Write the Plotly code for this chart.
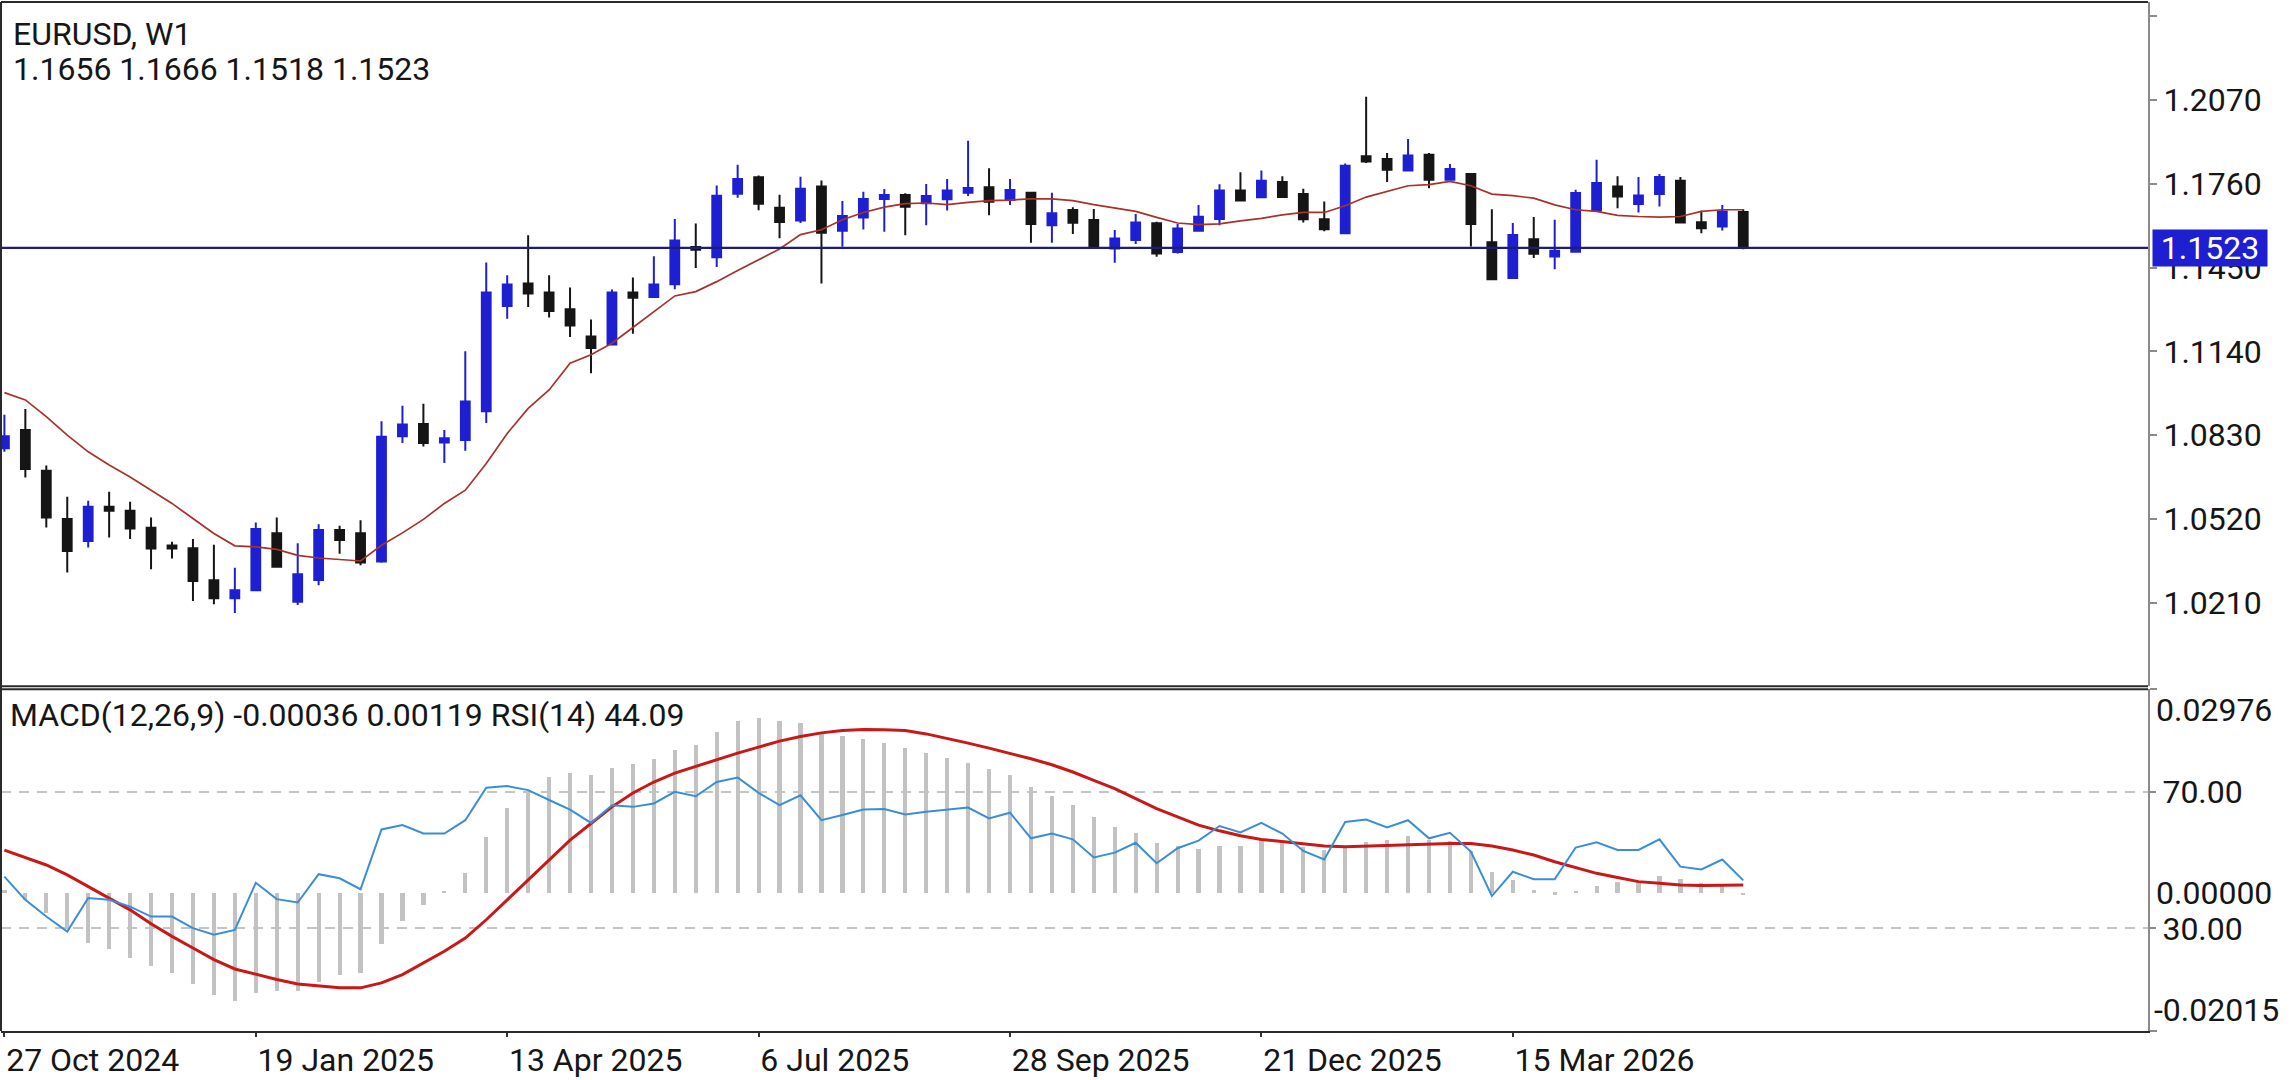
import pandas as pd
import plotly.graph_objects as go

# ---------------- data ----------------
symbol = "EURUSD, W1"
first_week = "2024-10-27"
n_weeks = 84
dates = pd.date_range(first_week, periods=n_weeks, freq="7D")

open_ = [1.0781, 1.0849, 1.0698, 1.0519, 1.0438, 1.0565, 1.0550, 1.0487, 1.0421, 1.0411,
         1.0293, 1.0226, 1.0256, 1.0467, 1.0213, 1.0294, 1.0479, 1.0467, 1.0362, 1.0826,
         1.0871, 1.0803, 1.0812, 1.0918, 1.1308, 1.1391, 1.1358, 1.1296, 1.1195, 1.1165,
         1.1358, 1.1341, 1.1388, 1.1526, 1.1488, 1.1723, 1.1784, 1.1671, 1.1624, 1.1750,
         1.1586, 1.1635, 1.1704, 1.1719, 1.1688, 1.1703, 1.1727, 1.1747, 1.1700, 1.1727,
         1.1607, 1.1663, 1.1626, 1.1521, 1.1552, 1.1614, 1.1508, 1.1586, 1.1630, 1.1735,
         1.1710, 1.1767, 1.1722, 1.1629, 1.1577, 1.1862, 1.1852, 1.1809, 1.1868, 1.1775,
         1.1796, 1.1544, 1.1411, 1.1555, 1.1491, 1.1509, 1.1661, 1.1750, 1.1685, 1.1722,
         1.1771, 1.1618, 1.1602, 1.1656]
high = [1.0905, 1.0927, 1.0717, 1.0602, 1.0587, 1.0620, 1.0583, 1.0525, 1.0435, 1.0445,
        1.0424, 1.0339, 1.0506, 1.0525, 1.0430, 1.0500, 1.0494, 1.0515, 1.0881, 1.0939,
        1.0946, 1.0849, 1.1140, 1.1469, 1.1422, 1.1570, 1.1422, 1.1376, 1.1258, 1.1369,
        1.1413, 1.1492, 1.1630, 1.1613, 1.1754, 1.1831, 1.1791, 1.1720, 1.1786, 1.1772,
        1.1696, 1.1731, 1.1741, 1.1725, 1.1759, 1.1778, 1.1919, 1.1818, 1.1778, 1.1731,
        1.1727, 1.1673, 1.1667, 1.1589, 1.1648, 1.1620, 1.1611, 1.1682, 1.1758, 1.1803,
        1.1809, 1.1788, 1.1742, 1.1695, 1.1835, 1.2082, 1.1874, 1.1926, 1.1874, 1.1833,
        1.1796, 1.1666, 1.1615, 1.1637, 1.1627, 1.1738, 1.1849, 1.1788, 1.1785, 1.1796,
        1.1785, 1.1660, 1.1682, 1.1666]
low = [1.0768, 1.0673, 1.0488, 1.0321, 1.0414, 1.0451, 1.0445, 1.0333, 1.0373, 1.0216,
       1.0204, 1.0171, 1.0252, 1.0339, 1.0201, 1.0274, 1.0391, 1.0348, 1.0357, 1.0801,
       1.0788, 1.0727, 1.0772, 1.0875, 1.1261, 1.1304, 1.1265, 1.1193, 1.1059, 1.1162,
       1.1205, 1.1339, 1.1370, 1.1448, 1.1452, 1.1708, 1.1662, 1.1559, 1.1615, 1.1391,
       1.1527, 1.1591, 1.1583, 1.1570, 1.1607, 1.1661, 1.1715, 1.1644, 1.1682, 1.1542,
       1.1542, 1.1574, 1.1521, 1.1468, 1.1537, 1.1490, 1.1502, 1.1583, 1.1607, 1.1696,
       1.1708, 1.1711, 1.1617, 1.1584, 1.1577, 1.1837, 1.1767, 1.1809, 1.1744, 1.1775,
       1.1528, 1.1407, 1.1411, 1.1485, 1.1444, 1.1506, 1.1661, 1.1670, 1.1654, 1.1676,
       1.1617, 1.1577, 1.1587, 1.1518]
close = [1.0826, 1.0704, 1.0525, 1.0401, 1.0565, 1.0550, 1.0484, 1.0410, 1.0410, 1.0290,
         1.0226, 1.0256, 1.0482, 1.0343, 1.0315, 1.0479, 1.0442, 1.0358, 1.0824, 1.0869,
         1.0801, 1.0818, 1.0954, 1.1358, 1.1387, 1.1354, 1.1289, 1.1236, 1.1152, 1.1358,
         1.1338, 1.1387, 1.1550, 1.1516, 1.1716, 1.1778, 1.1686, 1.1619, 1.1742, 1.1579,
         1.1641, 1.1704, 1.1719, 1.1675, 1.1715, 1.1735, 1.1745, 1.1694, 1.1737, 1.1611,
         1.1651, 1.1616, 1.1523, 1.1558, 1.1617, 1.1502, 1.1595, 1.1638, 1.1735, 1.1698,
         1.1771, 1.1711, 1.1629, 1.1592, 1.1827, 1.1843, 1.1812, 1.1865, 1.1775, 1.1815,
         1.1611, 1.1407, 1.1571, 1.1501, 1.1512, 1.1726, 1.1763, 1.1713, 1.1717, 1.1785,
         1.1617, 1.1596, 1.1658, 1.1523]
moving_avg = [1.0987, 1.0960, 1.0898, 1.0830, 1.0768, 1.0719, 1.0675, 1.0626, 1.0577, 1.0521,
              1.0466, 1.0420, 1.0416, 1.0407, 1.0385, 1.0375, 1.0370, 1.0364, 1.0422, 1.0468,
              1.0518, 1.0577, 1.0626, 1.0725, 1.0836, 1.0929, 1.0997, 1.1096, 1.1127, 1.1170,
              1.1228, 1.1287, 1.1345, 1.1361, 1.1398, 1.1439, 1.1479, 1.1519, 1.1572, 1.1590,
              1.1627, 1.1654, 1.1674, 1.1687, 1.1689, 1.1683, 1.1691, 1.1698, 1.1700, 1.1704,
              1.1704, 1.1698, 1.1683, 1.1670, 1.1658, 1.1636, 1.1615, 1.1609, 1.1612, 1.1623,
              1.1632, 1.1645, 1.1654, 1.1654, 1.1679, 1.1711, 1.1732, 1.1753, 1.1757, 1.1769,
              1.1753, 1.1722, 1.1716, 1.1707, 1.1682, 1.1664, 1.1658, 1.1643, 1.1639, 1.1637,
              1.1639, 1.1658, 1.1664, 1.1664]
macd = [0.00047, -0.00099, -0.00293, -0.00536, -0.00730, -0.00827, -0.00948, -0.01069, -0.01176, -0.01336,
        -0.01496, -0.01579, -0.01458, -0.01433, -0.01433, -0.01302, -0.01200, -0.01167, -0.00754, -0.00415,
        -0.00172, 0.00022, 0.00288, 0.00808, 0.01234, 0.01462, 0.01685, 0.01753, 0.01720, 0.01826,
        0.01880, 0.01947, 0.02092, 0.02156, 0.02350, 0.02505, 0.02554, 0.02505, 0.02481, 0.02350,
        0.02292, 0.02252, 0.02190, 0.02107, 0.02034, 0.01972, 0.01899, 0.01802, 0.01720, 0.01550,
        0.01414, 0.01283, 0.01099, 0.00953, 0.00870, 0.00725, 0.00687, 0.00637, 0.00687, 0.00687,
        0.00774, 0.00749, 0.00666, 0.00629, 0.00677, 0.00735, 0.00764, 0.00822, 0.00774, 0.00760,
        0.00604, 0.00298, 0.00192, 0.00036, -0.00026, 0.00022, 0.00105, 0.00153, 0.00167, 0.00250,
        0.00201, 0.00143, 0.00134, -0.00036]
signal = [0.00628, 0.00520, 0.00410, 0.00265, 0.00095, -0.00075, -0.00245, -0.00449, -0.00633, -0.00803,
          -0.00972, -0.01109, -0.01190, -0.01263, -0.01327, -0.01360, -0.01385, -0.01385, -0.01312, -0.01190,
          -0.01021, -0.00851, -0.00658, -0.00390, -0.00099, 0.00192, 0.00483, 0.00774, 0.01016, 0.01259,
          0.01462, 0.01622, 0.01753, 0.01851, 0.01947, 0.02044, 0.02132, 0.02219, 0.02287, 0.02340,
          0.02375, 0.02389, 0.02386, 0.02375, 0.02325, 0.02263, 0.02190, 0.02117, 0.02044, 0.01962,
          0.01874, 0.01768, 0.01647, 0.01525, 0.01379, 0.01234, 0.01113, 0.00992, 0.00909, 0.00837,
          0.00783, 0.00749, 0.00716, 0.00687, 0.00677, 0.00687, 0.00701, 0.00710, 0.00710, 0.00725,
          0.00725, 0.00687, 0.00629, 0.00555, 0.00458, 0.00371, 0.00288, 0.00226, 0.00167, 0.00143,
          0.00119, 0.00109, 0.00109, 0.00119]
rsi = [45.2, 38.4, 33.5, 29.1, 38.9, 38.4, 36.4, 33.5, 33.5, 30.1,
       28.2, 29.6, 43.4, 38.6, 37.6, 45.9, 44.7, 41.5, 59.0, 60.3,
       57.8, 57.8, 61.7, 71.2, 71.7, 70.5, 67.6, 64.8, 60.9, 66.1,
       65.6, 66.6, 70.0, 68.7, 72.9, 74.2, 69.7, 66.1, 69.0, 61.7,
       63.2, 64.8, 65.0, 63.4, 64.2, 64.8, 65.4, 62.2, 63.9, 56.4,
       57.8, 56.1, 50.8, 52.2, 55.1, 49.1, 53.5, 55.7, 60.0, 58.1,
       60.9, 57.8, 52.7, 50.2, 61.2, 61.9, 59.6, 61.7, 56.4, 58.0,
       52.5, 39.5, 46.6, 44.4, 44.4, 53.7, 55.2, 53.0, 53.0, 56.1,
       48.1, 47.3, 50.2, 44.09]

price_ticks = [1.0210, 1.0520, 1.0830, 1.1140, 1.1450, 1.1760, 1.2070, 1.2380]
price_tick_text = ["1.0210", "1.0520", "1.0830", "1.1140", "1.1450", "1.1760", "1.2070", ""]
date_ticks = ["2024-10-27", "2025-01-19", "2025-04-13", "2025-07-06",
              "2025-09-28", "2025-12-21", "2026-03-15"]
date_tick_text = ["27 Oct 2024", "19 Jan 2025", "13 Apr 2025", "6 Jul 2025",
                  "28 Sep 2025", "21 Dec 2025", "15 Mar 2026"]
rsi_levels = [30, 70]
rsi_level_text = ["30.00", "70.00"]
macd_limits = [-0.02015, 0.02976]

# ---------------- styling ----------------
BLUE = "#1f1fd2"
BLACK = "#151515"
MA_COLOR = "#a8322a"
SIG_COLOR = "#c81818"
RSI_COLOR = "#3b8ed6"
HIST_COLOR = "#c2c2c2"
LEVEL_COLOR = "#c4c4c4"
PRICE_LINE = "#1c1c7c"
AXIS_LINE = "#8a8a8a"
TXT = "#161616"
FONT = "Roboto"
FS = 32

W, H = 2292, 1080
ML, MR, MT, MB = 1, 144, 2, 45
plot_h = H - MT - MB
main_dom = [(H - MB - 689) / plot_h, 1.0]
sub_dom = [0.0, (H - MB - 692) / plot_h]

px_per_day = 20.95 / 7.0
t0 = pd.Timestamp(first_week)
x_left = t0 - pd.Timedelta(days=3.4 / px_per_day)
x_right = x_left + pd.Timedelta(days=(W - ML - MR) / px_per_day)
week_ms = 7 * 24 * 3600 * 1000

fig = go.Figure()
fig.add_trace(go.Candlestick(
    x=dates, open=open_, high=high, low=low, close=close,
    increasing=dict(line=dict(color=BLUE, width=2), fillcolor=BLUE),
    decreasing=dict(line=dict(color=BLACK, width=2), fillcolor=BLACK),
    whiskerwidth=0, xaxis="x", yaxis="y", hoverinfo="skip", showlegend=False))
fig.add_trace(go.Scatter(x=dates, y=moving_avg, mode="lines",
                         line=dict(color=MA_COLOR, width=1.7),
                         xaxis="x", yaxis="y", showlegend=False, hoverinfo="skip"))
fig.add_trace(go.Bar(x=dates, y=macd, width=week_ms * 0.2,
                     marker=dict(color=HIST_COLOR, line=dict(width=0)),
                     xaxis="x2", yaxis="y2", showlegend=False, hoverinfo="skip"))
fig.add_trace(go.Scatter(x=dates, y=signal, mode="lines",
                         line=dict(color=SIG_COLOR, width=3),
                         xaxis="x2", yaxis="y2", showlegend=False, hoverinfo="skip"))
fig.add_trace(go.Scatter(x=dates, y=rsi, mode="lines",
                         line=dict(color=RSI_COLOR, width=2),
                         xaxis="x2", yaxis="y3", showlegend=False, hoverinfo="skip"))

# current price line
fig.add_shape(type="line", xref="paper", yref="y", x0=0, x1=1,
              y0=close[-1], y1=close[-1], line=dict(color=PRICE_LINE, width=2.2), layer="above")

# panel frames
frame = dict(color="#2a2a2a", width=2)
fig.add_shape(type="line", xref="paper", yref="paper", x0=0, x1=1, y0=1, y1=1, line=frame)
fig.add_shape(type="line", xref="paper", yref="paper", x0=0, x1=1,
              y0=main_dom[0], y1=main_dom[0], line=frame)
fig.add_shape(type="line", xref="paper", yref="paper", x0=0, x1=1,
              y0=sub_dom[1], y1=sub_dom[1], line=frame)
fig.add_shape(type="line", xref="paper", yref="paper", x0=0, x1=0,
              y0=0, y1=1, line=frame)

ann = []
ann.append(dict(text=symbol, xref="paper", yref="paper", x=0, xshift=10,
                y=(H - MB - 34) / plot_h, xanchor="left", yanchor="middle",
                showarrow=False, font=dict(family=FONT, size=FS, color=TXT)))
ann.append(dict(text=f"{open_[-1]:.4f} {high[-1]:.4f} {low[-1]:.4f} {close[-1]:.4f}",
                xref="paper", yref="paper", x=0, xshift=10,
                y=(H - MB - 69) / plot_h, xanchor="left", yanchor="middle",
                showarrow=False, font=dict(family=FONT, size=FS, color=TXT)))
ann.append(dict(text=f"MACD(12,26,9) {macd[-1]:.5f} {signal[-1]:.5f} RSI(14) {rsi[-1]:.2f}",
                xref="paper", yref="paper", x=0, xshift=7,
                y=(H - MB - 718) / plot_h, xanchor="left", yanchor="middle",
                showarrow=False, font=dict(family=FONT, size=FS, color=TXT)))
# price tag (covers part of the 1.1450 label, as in the reference)
ann.append(dict(text=f"{close[-1]:.4f}", xref="paper", yref="y", x=1, xshift=4,
                y=close[-1], xanchor="left", yanchor="middle", showarrow=False,
                bgcolor=BLUE, width=114, height=36, borderpad=0, align="center",
                font=dict(family=FONT, size=FS, color="white")))
# MACD scale labels
ann.append(dict(text=f"{macd_limits[1]:.5f}", xref="paper", yref="y2", x=1, xshift=6,
                y=macd_limits[1], xanchor="left", yanchor="top", showarrow=False,
                font=dict(family=FONT, size=FS, color=TXT)))
ann.append(dict(text=f"{0:.5f}", xref="paper", yref="y2", x=1, xshift=6,
                y=0, xanchor="left", yanchor="middle", showarrow=False,
                font=dict(family=FONT, size=FS, color=TXT)))
ann.append(dict(text=f"{macd_limits[0]:.5f}", xref="paper", yref="y2", x=1, xshift=4,
                y=macd_limits[0], xanchor="left", yanchor="bottom", showarrow=False,
                font=dict(family=FONT, size=FS, color=TXT)))

axis_font = dict(family=FONT, size=FS, color=TXT)
fig.update_layout(
    width=W, height=H,
    margin=dict(l=ML, r=MR, t=MT, b=MB),
    paper_bgcolor="white", plot_bgcolor="white",
    font=dict(family=FONT, size=FS, color=TXT),
    showlegend=False, boxgap=0.4, bargap=0,
    annotations=ann,
    xaxis=dict(domain=[0, 1], anchor="y", range=[x_left, x_right],
               showticklabels=False, showgrid=False, zeroline=False,
               rangeslider=dict(visible=False), showline=False, ticks=""),
    xaxis2=dict(domain=[0, 1], anchor="y2", range=[x_left, x_right],
                tickvals=date_ticks, ticktext=date_tick_text,
                ticklabelposition="outside right", ticks="outside", ticklen=4,
                tickcolor="#333", tickwidth=1.5, tickfont=axis_font,
                showgrid=False, zeroline=False, showline=True,
                linecolor="#2a2a2a", linewidth=2),
    yaxis=dict(domain=main_dom, anchor="x", side="right", range=[0.9900, 1.2433],
               tickvals=price_ticks, ticktext=price_tick_text, ticks="outside",
               ticklen=7, tickcolor=AXIS_LINE, tickwidth=1.5, tickfont=axis_font,
               showgrid=False, zeroline=False, showline=True,
               linecolor=AXIS_LINE, linewidth=2),
    yaxis2=dict(domain=sub_dom, anchor="x2", side="right", range=macd_limits,
                tickvals=macd_limits, ticktext=["", ""], ticks="outside",
                ticklen=7, tickcolor=AXIS_LINE, tickwidth=1.5,
                showgrid=False, zeroline=False, showline=True,
                linecolor=AXIS_LINE, linewidth=2),
    yaxis3=dict(overlaying="y2", anchor="x2", side="right", range=[0, 100],
                tickvals=rsi_levels, ticktext=rsi_level_text, ticks="outside",
                ticklen=7, tickcolor=AXIS_LINE, tickwidth=1.5, tickfont=axis_font,
                showgrid=True, gridcolor=LEVEL_COLOR, gridwidth=1.5, griddash="10px,8px",
                zeroline=False, showline=False),
)

fig.write_html("out.html", config={"displayModeBar": False})
